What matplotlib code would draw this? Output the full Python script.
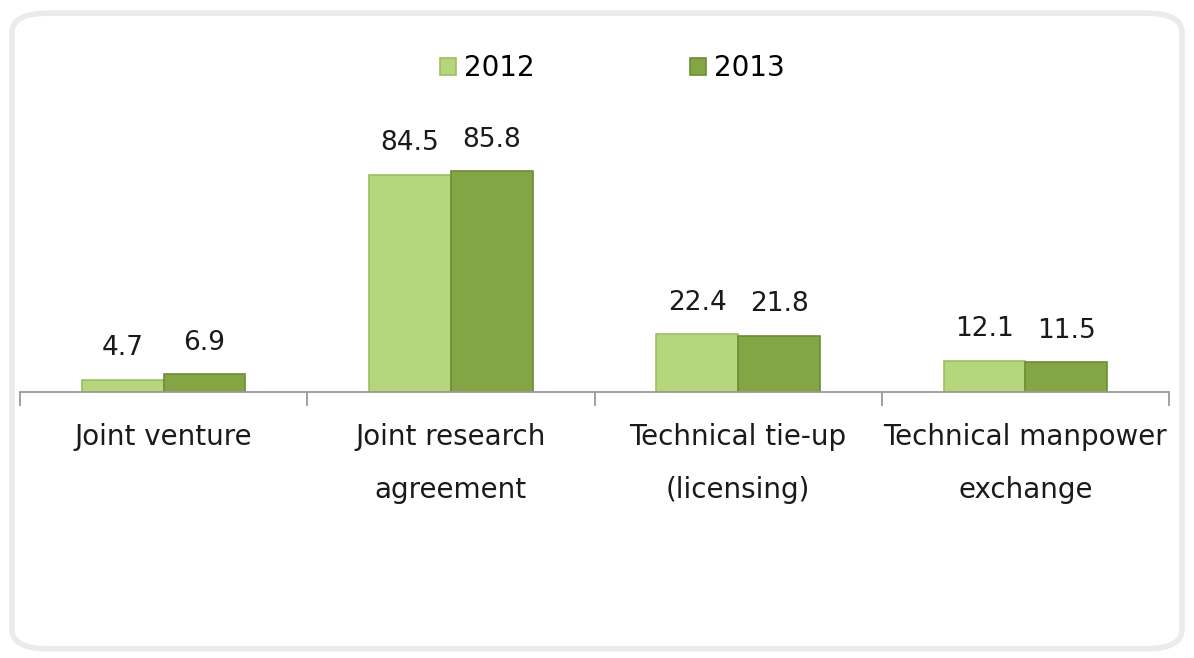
import matplotlib.pyplot as plt
from matplotlib.patches import FancyBboxPatch
import numpy as np

categories = ['Joint venture', 'Joint research\nagreement',
              'Technical tie-up\n(licensing)', 'Technical manpower\nexchange']
years = ['2012', '2013']
values_2012 = [4.7, 84.5, 22.4, 12.1]
values_2013 = [6.9, 85.8, 21.8, 11.5]

colors = ['#b5d67c', '#84a544']
edges = ['#9cbf63', '#6d8c35']

fig = plt.figure(figsize=(11.94, 6.58), dpi=100)

# rounded light frame around the chart
frame = FancyBboxPatch((0.010, 0.014), 0.980, 0.966,
                       boxstyle='round,pad=0,rounding_size=0.03',
                       transform=fig.transFigure, facecolor='none',
                       edgecolor='#ebebeb', linewidth=4, zorder=-1)
fig.patches.append(frame)

ax = fig.add_axes([20 / 1194, (658 - 392) / 658, 1149 / 1194, 292 / 658])
ax.set_facecolor('none')

x = np.arange(len(categories))
w = 0.285
bars1 = ax.bar(x - w / 2, values_2012, w, color=colors[0], edgecolor=edges[0],
               linewidth=1.2, label=years[0])
bars2 = ax.bar(x + w / 2, values_2013, w, color=colors[1], edgecolor=edges[1],
               linewidth=1.2, label=years[1])

for bars in (bars1, bars2):
    for b in bars:
        ax.text(b.get_x() + b.get_width() / 2, b.get_height() + 7.2,
                f'{b.get_height():.1f}', ha='center', va='bottom',
                fontsize=19, color='#1a1a1a')

ax.set_xlim(-0.5, len(categories) - 0.5)
ax.set_ylim(0, 113.6)
ax.set_yticks([])
for s in ['top', 'right', 'left']:
    ax.spines[s].set_visible(False)
ax.spines['bottom'].set_color('#9a9a9a')
ax.spines['bottom'].set_linewidth(1.3)

ax.set_xticks(np.arange(len(categories) + 1) - 0.5, minor=False)
ax.set_xticklabels([])
ax.tick_params(axis='x', length=10, width=1.3, color='#9a9a9a')
for i, c in enumerate(categories):
    ax.text(i, -12, c, ha='center', va='top', fontsize=20, color='#1a1a1a',
            linespacing=2.15)

leg = fig.legend(handles=[bars1, bars2], labels=years, loc='center',
                 bbox_to_anchor=(0.513, 0.896), ncol=2, frameon=False,
                 fontsize=20, columnspacing=5.6, handlelength=0.55,
                 handleheight=0.55, handletextpad=0.3)

fig.savefig('out.png', dpi=100)
